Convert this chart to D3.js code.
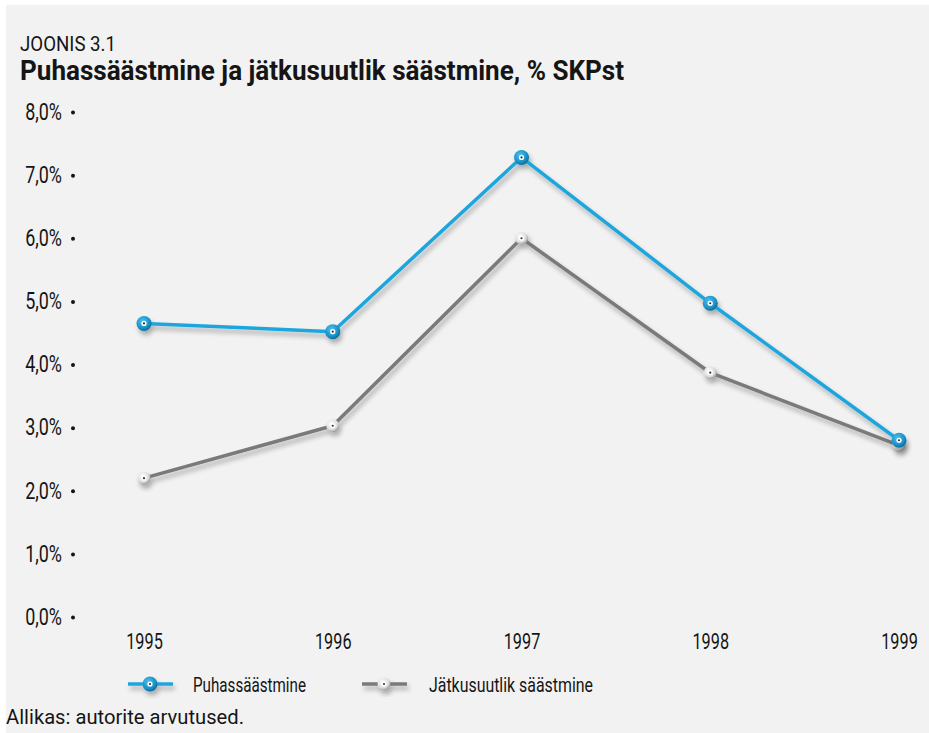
<!DOCTYPE html>
<html><head><meta charset="utf-8">
<script src="https://cdn.jsdelivr.net/npm/d3@7"></script>
<style>
html,body{margin:0;padding:0;background:#fff;}
svg{display:block;}
text{font-family:"Roboto","Liberation Sans",sans-serif;fill:#151515;font-weight:400;}
</style></head>
<body>
<svg id="c" width="929" height="733"></svg>
<script>
const years = ["1995","1996","1997","1998","1999"];
const puhas = [4.65, 4.52, 7.28, 4.97, 2.80];
const jatk = [2.20, 3.03, 6.00, 3.87, 2.72];
const yTicks = [0,1,2,3,4,5,6,7,8];
const seriesNames = ["Puhassäästmine","Jätkusuutlik säästmine"];
const titleSmall = "JOONIS 3.1";
const titleMain = "Puhassäästmine ja jätkusuutlik säästmine, % SKPst";
const source = "Allikas: autorite arvutused.";

const svg = d3.select("#c");
svg.append("rect").attr("x",6).attr("y",5).attr("width",923).attr("height",728).attr("fill","#f2f2f2");

// horizontally condense axis text (simulating a condensed typeface) via transform
function condense(sel, f){
  sel.each(function(){
    const t = d3.select(this);
    const x0 = +t.attr("x") || 0;
    t.attr("x", x0 / f).attr("transform", `scale(${f},1)`);
  });
}

const defs = svg.append("defs");
const sh = defs.append("filter").attr("id","sh").attr("x","-50%").attr("y","-50%").attr("width","200%").attr("height","200%");
sh.append("feGaussianBlur").attr("in","SourceAlpha").attr("stdDeviation",2.5).attr("result","b");
sh.append("feOffset").attr("in","b").attr("dx",2).attr("dy",4).attr("result","o");
sh.append("feComponentTransfer").attr("in","o").attr("result","o2").append("feFuncA").attr("type","linear").attr("slope",0.3);
const m = sh.append("feMerge"); m.append("feMergeNode").attr("in","o2"); m.append("feMergeNode").attr("in","SourceGraphic");

const gb = defs.append("radialGradient").attr("id","gBlue").attr("cx","40%").attr("cy","35%").attr("r","65%");
gb.append("stop").attr("offset","0%").attr("stop-color","#4cc2f0");
gb.append("stop").attr("offset","70%").attr("stop-color","#1a92c8");
gb.append("stop").attr("offset","100%").attr("stop-color","#0d6d9c");
const gg = defs.append("radialGradient").attr("id","gGrey").attr("cx","40%").attr("cy","35%").attr("r","65%");
gg.append("stop").attr("offset","0%").attr("stop-color","#ffffff");
gg.append("stop").attr("offset","70%").attr("stop-color","#dcdcdc");
gg.append("stop").attr("offset","100%").attr("stop-color","#9a9a9a");

svg.append("text").attr("x",20).attr("y",51).attr("font-size",21).text(titleSmall)
  .attr("textLength",96).attr("lengthAdjust","spacingAndGlyphs");
svg.append("text").attr("x",20).attr("y",80).attr("font-size",27).style("font-weight","bold").text(titleMain)
  .attr("textLength",604).attr("lengthAdjust","spacingAndGlyphs");

const y = d3.scaleLinear().domain([0,8]).range([617,112]);
const x = d3.scalePoint().domain(years).range([144,899]);

const yAxis = svg.append("g").attr("transform","translate(73,0)")
  .call(d3.axisLeft(y).tickValues(yTicks).tickSize(0).tickPadding(11).tickFormat(d=>d3.format(".1f")(d).replace(".",",")+"%"));
yAxis.select(".domain").remove();
yAxis.selectAll("text").attr("font-size",23).attr("fill","#151515").attr("font-family",null);
condense(yAxis.selectAll("text"), 0.78);
yAxis.selectAll(".tick").append("circle").attr("r",2).attr("fill","#151515");

const xAxis = svg.append("g").attr("transform","translate(0,628)")
  .call(d3.axisBottom(x).tickSize(0).tickPadding(0));
xAxis.select(".domain").remove();
xAxis.selectAll("text").attr("font-size",22).attr("fill","#151515").attr("font-family",null).attr("dy","0.95em");
condense(xAxis.selectAll("text"), 0.74);

const line = d3.line().x((d,i)=>x(years[i])).y(d=>y(d));

function marker(g, cx, cy, blue){
  const mg = g.append("g").attr("transform",`translate(${cx},${cy})`);
  mg.append("circle").attr("r",blue?7.5:6.5).attr("fill",blue?"url(#gBlue)":"url(#gGrey)");
  mg.append("circle").attr("r",2.6).attr("fill","#fff");
  mg.append("circle").attr("r",1.1).attr("fill","#333");
}

const series = [{vals:jatk,color:"#7a7a7a",blue:false},{vals:puhas,color:"#1fa6dd",blue:true}];
series.forEach(s=>{
  const g = svg.append("g").attr("filter","url(#sh)");
  g.append("path").attr("d",line(s.vals)).attr("fill","none").attr("stroke",s.color).attr("stroke-width",3.5).attr("stroke-linejoin","round");
  s.vals.forEach((v,i)=>marker(g,x(years[i]),y(v),s.blue));
});

// legend
const leg = [{name:seriesNames[0],color:"#1fa6dd",blue:true,x0:128,tx:193,tl:113},
             {name:seriesNames[1],color:"#7a7a7a",blue:false,x0:362,tx:429,tl:164}];
leg.forEach(l=>{
  const g = svg.append("g").attr("filter","url(#sh)");
  g.append("line").attr("x1",l.x0).attr("x2",l.x0+45).attr("y1",684).attr("y2",684).attr("stroke",l.color).attr("stroke-width",3.5);
  marker(g,l.x0+22,684,l.blue);
  svg.append("text").attr("x",l.tx).attr("y",692).attr("font-size",21).text(l.name)
    .attr("textLength",l.tl).attr("lengthAdjust","spacingAndGlyphs");
});

svg.append("text").attr("x",6).attr("y",724).attr("font-size",21).text(source)
  .attr("textLength",238).attr("lengthAdjust","spacingAndGlyphs");
</script>
</body></html>
